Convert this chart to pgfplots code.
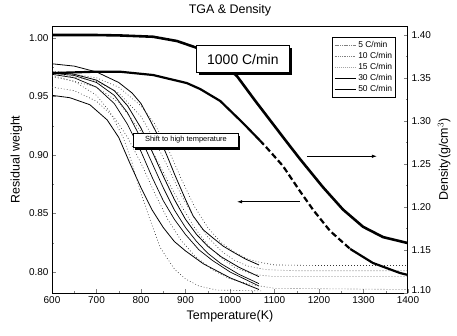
\documentclass[border=0pt]{standalone}
\usepackage{pgfplots}
\pgfplotsset{compat=1.18}
\usepackage{fontspec}
\setmainfont{Liberation Sans}
\usetikzlibrary{arrows.meta,shadows}
\begin{document}
\begin{tikzpicture}
\useasboundingbox (-52bp,-43bp) rectangle (405bp,293bp);
\begin{axis}[
 scale only axis, width=356bp, height=267bp,
 xmin=600, xmax=1400, ymin=0.782, ymax=1.0103,
 tick pos=left, tick align=inside,
 xtick={600,700,...,1400}, minor x tick num=1,
 ytick={0.80,0.85,0.90,0.95,1.00}, minor y tick num=1,
 /pgf/number format/assume math mode=true,
 xticklabel style={/pgf/number format/set thousands separator={}},
 yticklabel style={/pgf/number format/fixed, /pgf/number format/fixed zerofill, /pgf/number format/precision=2},
 ticklabel style={font=\fontsize{10}{12}\selectfont},
 xlabel={Temperature(K)}, ylabel={Residual weight},
 label style={font=\fontsize{12.5}{15}\selectfont},
 title={TGA \& Density}, title style={font=\fontsize{12.5}{15}\selectfont},
 axis line style={line width=1pt},
 major tick length=4bp, minor tick length=2bp,
 legend style={at={(0.966,0.957)}, anchor=north east, font=\fontsize{8.5}{9.5}\selectfont,
   draw=black, line width=0.5pt, inner sep=1.5pt, row sep=-0.5pt, legend cell align=left},
 legend image code/.code={\draw[#1] (0bp,0bp) -- (21bp,0bp);},
]
\addlegendimage{gray, dash pattern=on 1.2bp off 0.6bp, line width=0.8pt}
\addlegendentry{5 C/min}
\addlegendimage{gray, dash pattern=on 1bp off 0.8bp, line width=0.8pt}
\addlegendentry{10 C/min}
\addlegendimage{lightgray!60!gray, dash pattern=on 1bp off 1bp, line width=0.8pt}
\addlegendentry{15 C/min}
\addlegendimage{black, line width=1.1pt}
\addlegendentry{30 C/min}
\addlegendimage{black, line width=1.3pt}
\addlegendentry{50 C/min}
% solid thin TGA curves
\addplot[black, line width=0.8pt, forget plot] coordinates {(600,0.978) (650,0.976) (700,0.971) (750,0.962) (780,0.953) (800,0.944) (820,0.930) (843,0.913) (860,0.898) (876,0.883) (900,0.862) (917,0.848) (940,0.836) (962,0.829) (985,0.822) (1007,0.817) (1035,0.811) (1065,0.806)};
\addplot[black, line width=0.8pt, forget plot] coordinates {(600,0.971) (650,0.969) (700,0.964) (740,0.955) (770,0.942) (800,0.923) (825,0.903) (850,0.882) (875,0.862) (900,0.845) (925,0.832) (950,0.822) (980,0.813) (1020,0.804) (1065,0.796)};
\addplot[black, line width=0.7pt, forget plot] coordinates {(600,0.970) (650,0.968) (700,0.962) (740,0.951) (770,0.936) (800,0.914) (825,0.893) (850,0.872) (875,0.853) (900,0.838) (925,0.826) (950,0.816) (980,0.807) (1020,0.798) (1065,0.790)};
\addplot[black, line width=0.7pt, forget plot] coordinates {(600,0.969) (650,0.966) (700,0.958) (740,0.944) (770,0.926) (800,0.903) (825,0.881) (850,0.861) (875,0.845) (900,0.832) (930,0.819) (960,0.810) (1000,0.800) (1065,0.788)};
\addplot[black, line width=0.8pt, forget plot] coordinates {(600,0.951) (640,0.949) (685,0.943) (724,0.930) (750,0.915) (775,0.893) (800,0.872) (825,0.853) (850,0.838) (875,0.826) (900,0.818) (940,0.807) (1000,0.795) (1065,0.785)};
% dotted TGA curves
\addplot[black!80, line width=0.6pt, dash pattern=on 0.8bp off 2.2bp, forget plot] coordinates {(600,0.972) (700,0.966) (750,0.958) (800,0.942) (830,0.927) (860,0.906) (890,0.880) (920,0.856) (950,0.838) (980,0.825) (1010,0.817) (1040,0.811) (1070,0.808) (1100,0.806) (1200,0.8055) (1400,0.8055)};
\addplot[black!80, line width=0.6pt, dash pattern=on 0.8bp off 2.2bp, forget plot] coordinates {(600,0.970) (700,0.963) (750,0.953) (800,0.933) (830,0.913) (860,0.890) (890,0.866) (920,0.846) (950,0.830) (980,0.818) (1010,0.810) (1040,0.805) (1080,0.802) (1150,0.801) (1400,0.801)};
\addplot[black!80, line width=0.6pt, dash pattern=on 0.8bp off 2.2bp, forget plot] coordinates {(600,0.968) (700,0.958) (750,0.945) (800,0.920) (830,0.900) (860,0.878) (890,0.857) (920,0.838) (950,0.823) (980,0.812) (1010,0.804) (1050,0.798) (1100,0.796) (1400,0.796)};
\addplot[black!80, line width=0.6pt, dash pattern=on 0.8bp off 2.2bp, forget plot] coordinates {(600,0.958) (650,0.955) (700,0.946) (740,0.932) (770,0.915) (800,0.893) (830,0.868) (860,0.845) (890,0.827) (920,0.814) (960,0.802) (1000,0.794) (1050,0.789) (1100,0.786) (1400,0.785)};
\addplot[black!80, line width=0.6pt, dash pattern=on 0.8bp off 2.2bp, forget plot] coordinates {(600,0.967) (650,0.963) (700,0.951) (730,0.937) (760,0.915) (780,0.893) (800,0.867) (820,0.845) (843,0.821) (860,0.811) (876,0.802) (900,0.794) (930,0.788) (970,0.7845) (1070,0.7838)};
% TGA 1000 C/min (thick, partly dashed)
\addplot[black, line width=2.2pt, forget plot] coordinates {(600,0.9701) (700,0.9712) (753,0.9712) (827,0.9684) (903,0.9615) (933,0.9564) (978,0.9462) (1029,0.9274) (1067,0.9125)};
\addplot[black, line width=2.2pt, dash pattern=on 6bp off 3bp, forget plot] coordinates {(1067,0.9125) (1083,0.9060) (1119,0.8906) (1157,0.8692) (1187,0.8530) (1225,0.8350) (1270,0.8197)};
\addplot[black, line width=2.2pt, forget plot] coordinates {(1270,0.8197) (1321,0.8077) (1382,0.7991) (1400,0.7974)};
\draw[-{Latex[length=5bp,width=3.5bp]}, line width=0.7pt] (axis cs:1157,0.860) -- (axis cs:1016,0.860);
\node[draw=black, fill=white, line width=0.6pt, minimum width=105bp, minimum height=14bp, inner sep=1pt,
  font=\fontsize{7.5}{8}\selectfont, drop shadow={shadow xshift=2bp, shadow yshift=-2.5bp, fill=black, opacity=1}]
  at (axis cs:901,0.9128) {Shift to high temperature};
\end{axis}
\begin{axis}[
 scale only axis, width=356bp, height=267bp,
 xmin=600, xmax=1400, ymin=1.10, ymax=1.4105,
 axis x line=none, axis y line*=right, tick align=inside,
 ytick={1.15,1.20,...,1.40}, minor y tick num=1,
 extra y ticks={1.10},
 extra y tick style={yticklabel style={/tikz/yshift=3bp}},
 /pgf/number format/assume math mode=true,
 yticklabel style={/pgf/number format/fixed, /pgf/number format/fixed zerofill, /pgf/number format/precision=2},
 ticklabel style={font=\fontsize{10}{12}\selectfont},
 ylabel={Density(g/cm$^3$)},
 label style={font=\fontsize{12.5}{15}\selectfont},
 axis line style={line width=1pt},
 major tick length=4bp, minor tick length=2bp,
]
\addplot[black, line width=2.6pt] coordinates {(600,1.400) (700,1.400) (753,1.3995) (827,1.398) (881,1.393) (926,1.385) (970,1.373) (1016,1.352) (1056,1.324) (1090,1.301) (1124,1.278) (1157,1.256) (1209,1.223) (1254,1.197) (1299,1.177) (1344,1.165) (1400,1.158)};
\draw[-{Latex[length=5bp,width=3.5bp]}, line width=0.7pt] (axis cs:1173,1.259) -- (axis cs:1330,1.259);
\node[draw=black, fill=white, line width=0.7pt, minimum width=93bp, minimum height=27bp, inner sep=1pt,
  font=\fontsize{14}{16}\selectfont, drop shadow={shadow xshift=2.5bp, shadow yshift=-2.5bp, fill=black, opacity=1}]
  at (axis cs:1029,1.372) {1000 C/min};
\end{axis}
\end{tikzpicture}
\end{document}
